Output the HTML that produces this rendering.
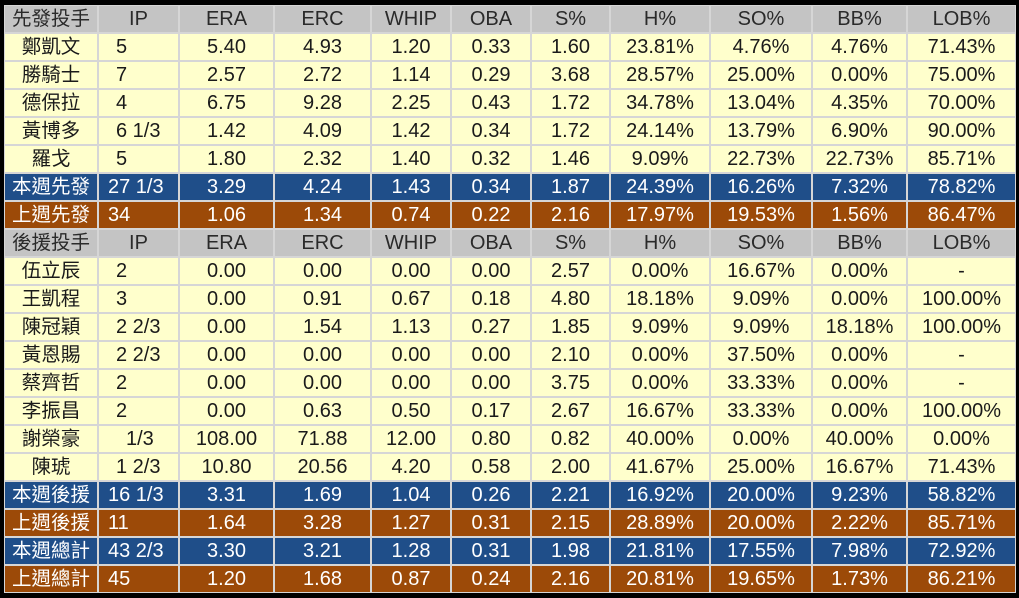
<!DOCTYPE html>
<html>
<head>
<meta charset="utf-8">
<style>
html,body{margin:0;padding:0;}
body{width:1019px;height:598px;background:#000;position:relative;overflow:hidden;
font-family:"Liberation Sans","Noto Sans CJK TC","Noto Sans CJK SC",sans-serif;}
.wrap{position:absolute;left:4px;top:5px;padding:1px;background:#d6d6d6;width:1010px;height:586px;}
.g{display:grid;grid-template-columns:92px 79px 93px 95px 78px 78px 77px 98px 100px 93px 107px;
grid-auto-rows:26px;gap:2px;}
.g div{display:flex;align-items:center;justify-content:center;font-size:20px;line-height:26px;white-space:pre;color:#1a1a1a;background:#ffffcc;overflow:hidden;}
.g div.ip{justify-content:flex-start;padding-left:17px;}
.g div.ip2{justify-content:flex-start;padding-left:9px;}
.g div.ip3{justify-content:flex-start;padding-left:27px;}
.g .h div{}
.hd{background:#c4c4c4 !important;color:#2a2a2a !important;}
.b{background:#1f4e89 !important;color:#fff !important;}
.o{background:#9c4a08 !important;color:#fff !important;}
.g div.nm{font-size:19.5px;}
</style>
</head>
<body>
<div class="wrap">
<div class="g">
<div class="hd nm">先發投手</div><div class="hd">IP</div><div class="hd">ERA</div><div class="hd">ERC</div><div class="hd">WHIP</div><div class="hd">OBA</div><div class="hd">S%</div><div class="hd">H%</div><div class="hd">SO%</div><div class="hd">BB%</div><div class="hd">LOB%</div>

<div class="nm">鄭凱文</div><div class="ip">5</div><div>5.40</div><div>4.93</div><div>1.20</div><div>0.33</div><div>1.60</div><div>23.81%</div><div>4.76%</div><div>4.76%</div><div>71.43%</div>
<div class="nm">勝騎士</div><div class="ip">7</div><div>2.57</div><div>2.72</div><div>1.14</div><div>0.29</div><div>3.68</div><div>28.57%</div><div>25.00%</div><div>0.00%</div><div>75.00%</div>
<div class="nm">德保拉</div><div class="ip">4</div><div>6.75</div><div>9.28</div><div>2.25</div><div>0.43</div><div>1.72</div><div>34.78%</div><div>13.04%</div><div>4.35%</div><div>70.00%</div>
<div class="nm">黃博多</div><div class="ip">6 1/3</div><div>1.42</div><div>4.09</div><div>1.42</div><div>0.34</div><div>1.72</div><div>24.14%</div><div>13.79%</div><div>6.90%</div><div>90.00%</div>
<div class="nm">羅戈</div><div class="ip">5</div><div>1.80</div><div>2.32</div><div>1.40</div><div>0.32</div><div>1.46</div><div>9.09%</div><div>22.73%</div><div>22.73%</div><div>85.71%</div>

<div class="b nm">本週先發</div><div class="b ip2">27 1/3</div><div class="b">3.29</div><div class="b">4.24</div><div class="b">1.43</div><div class="b">0.34</div><div class="b">1.87</div><div class="b">24.39%</div><div class="b">16.26%</div><div class="b">7.32%</div><div class="b">78.82%</div>
<div class="o nm">上週先發</div><div class="o ip2">34</div><div class="o">1.06</div><div class="o">1.34</div><div class="o">0.74</div><div class="o">0.22</div><div class="o">2.16</div><div class="o">17.97%</div><div class="o">19.53%</div><div class="o">1.56%</div><div class="o">86.47%</div>

<div class="hd nm">後援投手</div><div class="hd">IP</div><div class="hd">ERA</div><div class="hd">ERC</div><div class="hd">WHIP</div><div class="hd">OBA</div><div class="hd">S%</div><div class="hd">H%</div><div class="hd">SO%</div><div class="hd">BB%</div><div class="hd">LOB%</div>

<div class="nm">伍立辰</div><div class="ip">2</div><div>0.00</div><div>0.00</div><div>0.00</div><div>0.00</div><div>2.57</div><div>0.00%</div><div>16.67%</div><div>0.00%</div><div>-</div>
<div class="nm">王凱程</div><div class="ip">3</div><div>0.00</div><div>0.91</div><div>0.67</div><div>0.18</div><div>4.80</div><div>18.18%</div><div>9.09%</div><div>0.00%</div><div>100.00%</div>
<div class="nm">陳冠穎</div><div class="ip">2 2/3</div><div>0.00</div><div>1.54</div><div>1.13</div><div>0.27</div><div>1.85</div><div>9.09%</div><div>9.09%</div><div>18.18%</div><div>100.00%</div>
<div class="nm">黃恩賜</div><div class="ip">2 2/3</div><div>0.00</div><div>0.00</div><div>0.00</div><div>0.00</div><div>2.10</div><div>0.00%</div><div>37.50%</div><div>0.00%</div><div>-</div>
<div class="nm">蔡齊哲</div><div class="ip">2</div><div>0.00</div><div>0.00</div><div>0.00</div><div>0.00</div><div>3.75</div><div>0.00%</div><div>33.33%</div><div>0.00%</div><div>-</div>
<div class="nm">李振昌</div><div class="ip">2</div><div>0.00</div><div>0.63</div><div>0.50</div><div>0.17</div><div>2.67</div><div>16.67%</div><div>33.33%</div><div>0.00%</div><div>100.00%</div>
<div class="nm">謝榮豪</div><div class="ip3">1/3</div><div>108.00</div><div>71.88</div><div>12.00</div><div>0.80</div><div>0.82</div><div>40.00%</div><div>0.00%</div><div>40.00%</div><div>0.00%</div>
<div class="nm">陳琥</div><div class="ip">1 2/3</div><div>10.80</div><div>20.56</div><div>4.20</div><div>0.58</div><div>2.00</div><div>41.67%</div><div>25.00%</div><div>16.67%</div><div>71.43%</div>

<div class="b nm">本週後援</div><div class="b ip2">16 1/3</div><div class="b">3.31</div><div class="b">1.69</div><div class="b">1.04</div><div class="b">0.26</div><div class="b">2.21</div><div class="b">16.92%</div><div class="b">20.00%</div><div class="b">9.23%</div><div class="b">58.82%</div>
<div class="o nm">上週後援</div><div class="o ip2">11</div><div class="o">1.64</div><div class="o">3.28</div><div class="o">1.27</div><div class="o">0.31</div><div class="o">2.15</div><div class="o">28.89%</div><div class="o">20.00%</div><div class="o">2.22%</div><div class="o">85.71%</div>
<div class="b nm">本週總計</div><div class="b ip2">43 2/3</div><div class="b">3.30</div><div class="b">3.21</div><div class="b">1.28</div><div class="b">0.31</div><div class="b">1.98</div><div class="b">21.81%</div><div class="b">17.55%</div><div class="b">7.98%</div><div class="b">72.92%</div>
<div class="o nm">上週總計</div><div class="o ip2">45</div><div class="o">1.20</div><div class="o">1.68</div><div class="o">0.87</div><div class="o">0.24</div><div class="o">2.16</div><div class="o">20.81%</div><div class="o">19.65%</div><div class="o">1.73%</div><div class="o">86.21%</div>
</div>
</div>
</body>
</html>
